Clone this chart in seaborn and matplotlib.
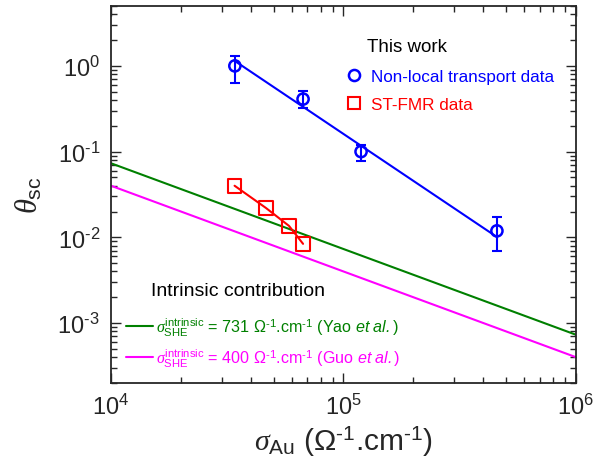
import numpy as np
import pandas as pd
import matplotlib
matplotlib.use("Agg")
import matplotlib.pyplot as plt
from matplotlib.lines import Line2D
from matplotlib.ticker import LogLocator, NullFormatter, FuncFormatter
import seaborn as sns

# non-local transport data (blue circles)
nl_sigma = [3.41e4, 6.7e4, 1.19e5, 4.57e5]
nl_theta = [1.0, 0.41, 0.10, 0.0119]
nl_err_lo = [0.37, 0.09, 0.022, 0.005]
nl_err_hi = [0.31, 0.10, 0.02, 0.0054]
nl_fit_sigma = [3.41e4, 4.57e5]
nl_fit_theta = [1.14, 0.0101]

# ST-FMR data (red squares)
fmr_sigma = [3.4e4, 4.64e4, 5.83e4, 6.7e4]
fmr_theta = [0.040, 0.022, 0.0136, 0.0084]

# intrinsic contribution lines (end points)
intr_sigma = [1e4, 1e6]
yao_theta = [0.0731, 0.000731]
guo_theta = [0.040, 0.00040]

HY = "\u2010"  # short hyphen used in superscripts

sns.set_style("ticks")
plt.rcParams["font.family"] = ["Liberation Sans", "DejaVu Sans"]
plt.rcParams["mathtext.fontset"] = "custom"
plt.rcParams["mathtext.rm"] = "Liberation Sans"
plt.rcParams["mathtext.it"] = "Liberation Serif:italic"
plt.rcParams["mathtext.sf"] = "Liberation Sans:italic"
plt.rcParams["axes.unicode_minus"] = False

fig = plt.figure(figsize=(6.04, 4.64), dpi=100)
ax = fig.add_axes([0.1838, 0.1724, 0.7698, 0.8126])
ax.set_xscale("log")
ax.set_yscale("log")

sns.lineplot(x=intr_sigma, y=yao_theta, ax=ax, color="#008000", lw=1.5)
sns.lineplot(x=intr_sigma, y=guo_theta, ax=ax, color="#ff00ff", lw=1.5)
sns.lineplot(x=nl_fit_sigma, y=nl_fit_theta, ax=ax, color="#0000ff", lw=1.5)
sns.lineplot(x=fmr_sigma, y=fmr_theta, ax=ax, color="#ff0000", lw=1.5)

ax.errorbar(nl_sigma, nl_theta, yerr=[nl_err_lo, nl_err_hi], fmt="none",
            ecolor="#0000ff", elinewidth=1.5, capsize=3.5, capthick=1.5)
sns.scatterplot(x=nl_sigma, y=nl_theta, ax=ax, marker="o", s=65,
                facecolor="none", edgecolor="#0000ff", linewidth=1.8, zorder=5)
sns.scatterplot(x=fmr_sigma, y=fmr_theta, ax=ax, marker="s", s=95,
                facecolor="none", edgecolor="#ff0000", linewidth=1.5, zorder=5)

ax.set_xlim(1e4, 1e6)
ax.set_ylim(2e-4, 5.0)


def exp_fmt(v, pos):
    e = int(round(np.log10(v)))
    s = str(e).replace("-", HY)
    return r"$\mathdefault{10^{%s}}$" % s


for axis in (ax.xaxis, ax.yaxis):
    axis.set_major_locator(LogLocator(base=10, numticks=20))
    axis.set_major_formatter(FuncFormatter(exp_fmt))
    axis.set_minor_locator(LogLocator(base=10, subs=np.arange(2, 10), numticks=100))
    axis.set_minor_formatter(NullFormatter())

ax.tick_params(which="both", direction="in", top=True, right=True,
               width=1.0, labelsize=17)
ax.tick_params(which="major", length=7, pad=8)
ax.tick_params(which="minor", length=4)
for s in ax.spines.values():
    s.set_linewidth(1.3)

ax.set_xlabel(r"$\sigma_{\rm Au}$ ($\Omega^{%s1}$.cm$^{%s1}$)" % (HY, HY), fontsize=21.5)
ax.xaxis.set_label_coords(0.5, -0.11)
ax.set_ylabel(r"$\theta_{\rm sc}$", fontsize=22)
ax.yaxis.set_label_coords(-0.142, 0.5)

# top legend
ax.text(0.55, 0.893, "This work", transform=ax.transAxes, fontsize=13.5,
        color="black", va="center")
top_handles = [
    Line2D([], [], ls="none", marker="o", ms=8, mfc="none", mec="#0000ff", mew=1.8),
    Line2D([], [], ls="none", marker="s", ms=9, mfc="none", mec="#ff0000", mew=1.5),
]
leg1 = ax.legend(top_handles, ["Non-local transport data", "ST-FMR data"],
                 loc="upper left", bbox_to_anchor=(0.468, 0.873), frameon=False,
                 fontsize=12.3, labelcolor=["#0000ff", "#ff0000"],
                 handletextpad=0.4, labelspacing=0.75, handlelength=1.2)
ax.add_artist(leg1)

# bottom legend
ax.text(0.087, 0.245, "Intrinsic contribution", transform=ax.transAxes,
        fontsize=14, color="black", va="center")
bot_handles = [
    Line2D([], [], color="#008000", lw=1.5),
    Line2D([], [], color="#ff00ff", lw=1.5),
]
bot_labels = [
    r"$\sigma_{\rm SHE}^{\rm intrinsic}$ = 731 $\Omega^{%s1}$.cm$^{%s1}$ (Yao $\mathsf{et\ al.}$)" % (HY, HY),
    r"$\sigma_{\rm SHE}^{\rm intrinsic}$ = 400 $\Omega^{%s1}$.cm$^{%s1}$ (Guo $\mathsf{et\ al.}$)" % (HY, HY),
]
ax.legend(bot_handles, bot_labels, loc="lower left", bbox_to_anchor=(0.0, 0.0),
          frameon=False, fontsize=11.6, labelcolor=["#008000", "#ff00ff"],
          handletextpad=0.2, labelspacing=0.5, handlelength=1.7)

fig.savefig("out.png", dpi=100)
